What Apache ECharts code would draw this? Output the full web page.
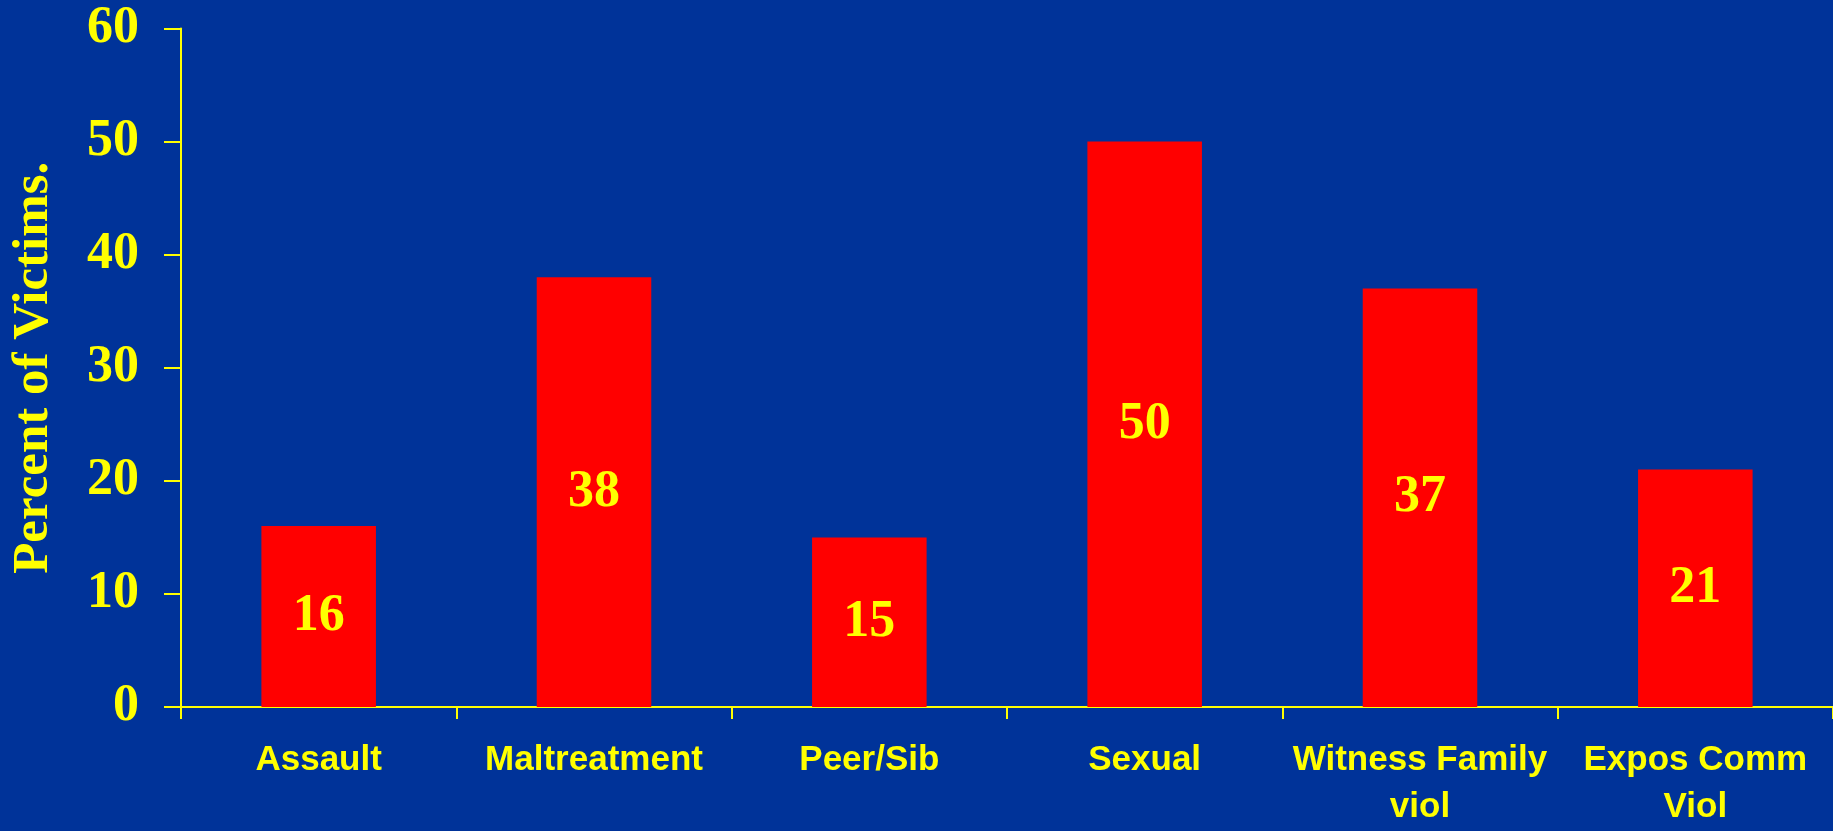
<!DOCTYPE html>
<html>
<head>
<meta charset="utf-8">
<script src="https://cdn.jsdelivr.net/npm/echarts@6/dist/echarts.min.js"></script>
<style>
html,body{margin:0;padding:0;background:#003399;}
#chart{width:1833px;height:831px;}
</style>
</head>
<body>
<div id="chart"></div>
<script>
var categories = ["Assault", "Maltreatment", "Peer/Sib", "Sexual", "Witness Family\nviol", "Expos Comm\nViol"];
var values = [16, 38, 15, 50, 37, 21];
var yTicks = { min: 0, max: 60, interval: 10 };
var yName = "Percent of Victims.";

var chart = echarts.init(document.getElementById('chart'));
chart.setOption({
  backgroundColor: '#003399',
  animation: false,
  grid: { left: 172, right: 0, top: 28.5, bottom: 116.5, containLabel: false },
  xAxis: {
    type: 'category',
    data: categories,
    axisLine: { lineStyle: { color: '#FFFF00', width: 2 } },
    axisTick: { show: true, length: 12, lineStyle: { color: '#FFFF00', width: 2 } },
    axisLabel: {
      color: '#FFFF00',
      fontFamily: 'Liberation Sans, Arial, sans-serif',
      fontWeight: 'bold',
      fontSize: 35,
      lineHeight: 47,
      margin: 30,
      interval: 0
    }
  },
  yAxis: {
    type: 'value',
    min: yTicks.min,
    max: yTicks.max,
    interval: yTicks.interval,
    name: yName,
    nameLocation: 'middle',
    nameRotate: 90,
    nameGap: 122,
    nameTextStyle: {
      color: '#FFFF00',
      fontFamily: 'Liberation Serif, Times New Roman, serif',
      fontWeight: 'bold',
      fontSize: 51
    },
    axisLine: { show: true, lineStyle: { color: '#FFFF00', width: 2 } },
    axisTick: { show: true, length: 17, lineStyle: { color: '#FFFF00', width: 2 } },
    splitLine: { show: false },
    axisLabel: {
      color: '#FFFF00',
      fontFamily: 'Liberation Serif, Times New Roman, serif',
      fontWeight: 'bold',
      fontSize: 52,
      margin: 42
    }
  },
  series: [{
    type: 'bar',
    data: values,
    barWidth: '41.6%',
    itemStyle: { color: '#FF0000' },
    label: {
      show: true,
      position: 'inside',
      color: '#FFFF00',
      fontFamily: 'Liberation Serif, Times New Roman, serif',
      fontWeight: 'bold',
      fontSize: 52
    }
  }]
});
</script>
</body>
</html>
